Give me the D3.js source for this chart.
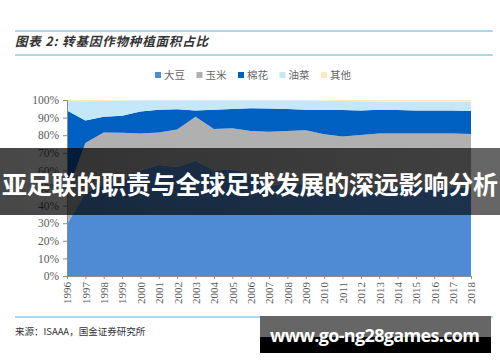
<!DOCTYPE html>
<html>
<head>
<meta charset="utf-8">
<script src="https://cdn.jsdelivr.net/npm/d3@7"></script>
<style>
  html, body { margin: 0; padding: 0; background: #fff; }
  svg { display: block; }
</style>
</head>
<body>
<svg id="chart" width="500" height="362"></svg>
<script>
// ─── data (share of GM crop area, %) ─────────────────────────────
const years  = [1996, 1997, 1998, 1999, 2000, 2001, 2002, 2003, 2004, 2005, 2006, 2007,
                2008, 2009, 2010, 2011, 2012, 2013, 2014, 2015, 2016, 2017, 2018];
const soy    = [29.5, 47, 52, 54, 60, 63, 62, 65.5, 60, 60.5, 58, 51, 53, 52, 50, 47, 47, 48, 50, 51, 49, 50, 50];
const corn   = [17.5, 28.6, 29.6, 27.4, 21, 18.6, 21.3, 25, 23.5, 23.4, 24.4, 31, 29.4, 30.8, 30.5, 32.2, 33.1, 33, 31, 30, 32, 31, 30.7];
const cotton = [47, 12.7, 8.9, 9.7, 12.4, 12.9, 11.4, 3.6, 11, 11, 12.9, 13.1, 12.5, 11.7, 13.8, 15.1, 13.9, 13.5, 13.3, 13.1, 13, 13, 13.1];
const canola = [5.5, 11, 9, 8.6, 6.4, 5.3, 5.1, 5.7, 5.3, 4.9, 4.5, 4.7, 4.9, 5.3, 5.4, 5.2, 5.3, 4.5, 4.7, 4.9, 5, 5, 5.2];
const other  = [0.5, 0.7, 0.5, 0.3, 0.2, 0.2, 0.2, 0.2, 0.2, 0.2, 0.2, 0.2, 0.2, 0.2, 0.3, 0.5, 0.7, 1, 1, 1, 1, 1, 1];

const seriesKeys   = ["soy", "corn", "cotton", "canola", "other"];
const seriesLabels = ["大豆", "玉米", "棉花", "油菜", "其他"];
const yTicks       = [0, 10, 20, 30, 40, 50, 60, 70, 80, 90, 100];

// ─── colours ──────────────────────────────────────────────────────
const colors = {
    soy:    "#4f8bd4",
    corn:   "#b0b0b0",
    cotton: "#0060c2",
    canola: "#c4e7fa",
    other:  "#fbe8c2"
};
const rule = "#5bb4e5";

const svg = d3.select("#chart");

// ─── header ───────────────────────────────────────────────────────
svg.append("line").attr("x1", 15).attr("x2", 493).attr("y1", 31).attr("y2", 31)
    .attr("stroke", rule).attr("stroke-width", 1.2);
svg.append("line").attr("x1", 15).attr("x2", 493).attr("y1", 55).attr("y2", 55)
    .attr("stroke", rule).attr("stroke-width", 1.2);

svg.append("text")
    .attr("x", 15).attr("y", 46)
    .attr("textLength", 193)
    .style("font-family", "'Noto Sans CJK SC', sans-serif")
    .style("font-size", "12.5px")
    .style("font-style", "italic")
    .style("font-weight", "bold")
    .style("fill", "#333")
    .text("图表 2:  转基因作物种植面积占比");

// ─── legend ───────────────────────────────────────────────────────
seriesKeys.forEach((k, i) => {
    const g = svg.append("g").attr("transform", `translate(155, 75)`)
        .attr("transform", `translate(${155 + i * 41.5}, 75)`);
    g.append("rect").attr("x", 0).attr("y", -3).attr("width", 6).attr("height", 6)
        .attr("fill", colors[k]);
    g.append("text").attr("x", 9).attr("y", 0).attr("dy", "0.36em")
        .style("font-family", "'Noto Sans CJK SC', sans-serif")
        .style("font-size", "10.5px")
        .style("fill", "#666")
        .text(seriesLabels[i]);
});

// ─── chart ────────────────────────────────────────────────────────
const rows = years.map((yr, i) => ({
    year: yr, soy: soy[i], corn: corn[i], cotton: cotton[i], canola: canola[i], other: other[i]
}));

const stacked = d3.stack().keys(seriesKeys)(rows);

const x = d3.scaleLinear().domain([years[0], years[years.length - 1]]).range([67, 471]);
const y = d3.scaleLinear().domain([0, 100]).range([276, 100]);

const area = d3.area()
    .x(d => x(d.data.year))
    .y0(d => y(d[0]))
    .y1(d => y(d[1]));

svg.append("g")
    .selectAll("path")
    .data(stacked)
    .join("path")
    .attr("d", area)
    .attr("fill", d => colors[d.key]);

// y axis
const yAxis = svg.append("g")
    .attr("transform", "translate(67,0)")
    .attr("font-family", "'Liberation Serif', serif")
    .call(d3.axisLeft(y).tickValues(yTicks).tickSize(4).tickPadding(4).tickFormat(d => d + "%"));
yAxis.attr("font-family", "'Liberation Serif', serif");
yAxis.select(".domain").attr("stroke", "#8c8c8c");
yAxis.selectAll(".tick line").attr("stroke", "#8c8c8c");
yAxis.selectAll("text")
    .style("font-family", "'Liberation Serif', serif")
    .style("font-size", "11.5px")
    .style("fill", "#595959");

// x axis
const xAxis = svg.append("g")
    .attr("transform", "translate(0,276)")
    .call(d3.axisBottom(x).tickValues(years).tickSize(3).tickFormat(d => d));
xAxis.attr("font-family", "'Liberation Serif', serif");
xAxis.select(".domain").attr("stroke", "#8c8c8c");
xAxis.selectAll(".tick line").attr("stroke", "#8c8c8c");
xAxis.selectAll("text")
    .attr("transform", "rotate(-90)")
    .attr("x", -6).attr("y", 0).attr("dy", "0.35em")
    .attr("text-anchor", "end")
    .style("font-family", "'Liberation Serif', serif")
    .style("font-size", "11px")
    .style("fill", "#595959");

// ─── footer ───────────────────────────────────────────────────────
svg.append("line").attr("x1", 15).attr("x2", 493).attr("y1", 317).attr("y2", 317)
    .attr("stroke", rule).attr("stroke-width", 1.2);
svg.append("text")
    .attr("x", 15).attr("y", 335)
    .style("font-family", "'Noto Sans CJK SC', sans-serif")
    .style("font-size", "9.5px")
    .style("fill", "#333")
    .text("来源：ISAAA，国金证券研究所");

// ─── overlay banner ───────────────────────────────────────────────
const defs = svg.append("defs");
const grad = defs.append("linearGradient").attr("id", "band").attr("x1", 0).attr("x2", 1);
grad.append("stop").attr("offset", 0).attr("stop-color", "#000").attr("stop-opacity", 0.72);
grad.append("stop").attr("offset", 0.94).attr("stop-color", "#000").attr("stop-opacity", 0.64);
grad.append("stop").attr("offset", 0.945).attr("stop-color", "#000").attr("stop-opacity", 0.6);
grad.append("stop").attr("offset", 1).attr("stop-color", "#000").attr("stop-opacity", 0.6);

svg.append("rect").attr("x", 0).attr("y", 148).attr("width", 500).attr("height", 67)
    .attr("fill", "url(#band)");
svg.append("text")
    .attr("x", 250).attr("y", 185).attr("dy", "0.35em")
    .attr("text-anchor", "middle")
    .attr("textLength", 496)
    .style("font-family", "'Noto Sans CJK SC', sans-serif")
    .style("font-size", "25px")
    .style("font-weight", "bold")
    .style("fill", "#fff")
    .text("亚足联的职责与全球足球发展的深远影响分析");

// ─── url badge ────────────────────────────────────────────────────
svg.append("rect").attr("x", 260).attr("y", 316).attr("width", 231).attr("height", 37)
    .attr("fill", "#666");
svg.append("rect").attr("x", 260).attr("y", 337).attr("width", 231).attr("height", 16)
    .attr("fill", "#000");
svg.append("text")
    .attr("x", 375).attr("y", 342)
    .attr("text-anchor", "middle")
    .attr("textLength", 210)
    .style("font-family", "'Open Sans', sans-serif")
    .style("font-size", "18px")
    .style("font-weight", "bold")
    .style("fill", "#fff")
    .text("www.go-ng28games.com");
</script>
</body>
</html>
